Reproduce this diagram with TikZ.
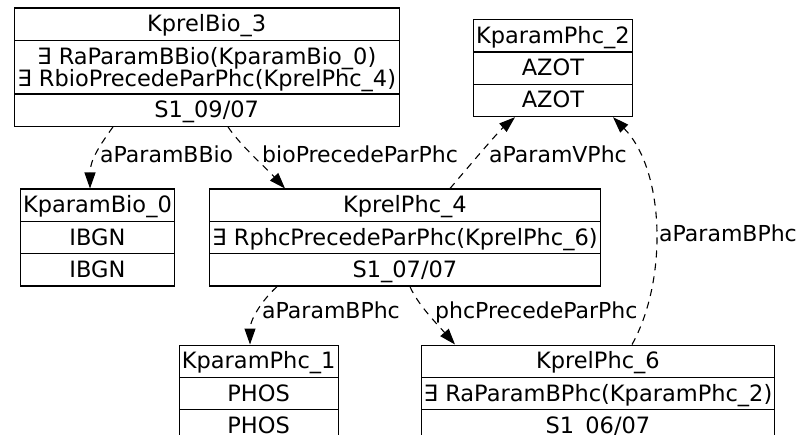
\documentclass[tikz,border=0pt]{standalone}
\usepackage{fontspec}
\setmainfont{DejaVu Sans}
\usepackage{tikz}
\usetikzlibrary{shapes.multipart,arrows.meta,calc,positioning}

\newcommand{\rs}{\rule[-8pt]{0pt}{31pt}}
\newcommand{\recfont}{\fontsize{22.5}{22.7}\selectfont\lineskiplimit=-100pt\hyphenpenalty=10000\relax}

\tikzset{
  rec/.style={draw, line width=1.3pt, rectangle split, rectangle split parts=3,
    inner xsep=0pt, inner ysep=0pt, align=center, anchor=north west,
    font=\recfont},
  lnk/.style={line width=1.1pt, dash pattern=on 7pt off 6pt,
    -{Triangle[length=16pt,width=11pt]}},
  lbl/.style={anchor=base west, inner sep=0pt, font=\fontsize{22}{26}\selectfont}
}

\begin{document}
\begin{tikzpicture}[x=1pt,y=-1pt]

  \useasboundingbox (0,0) rectangle (799,435);

  % records
  \node[rec, text width=385pt] (bio3) at (13.5,7.5)
    {\rs KprelBio\_3
     \nodepart{two}\rule{0pt}{23pt}∃ RaParamBBio(KparamBio\_0)\\
       \rule[-6.5pt]{0pt}{6.5pt}∃ RbioPrecedeParPhc(KprelPhc\_4)
     \nodepart{three}\rs S1\_09/07};
  \node[rec, text width=159.5pt] (par2) at (472.5,19)
    {\rs KparamPhc\_2 \nodepart{two}\rs AZOT \nodepart{three}\rs AZOT};
  \node[rec, text width=154.5pt] (bio0) at (19.5,188.5)
    {\rs KparamBio\_0 \nodepart{two}\rs IBGN \nodepart{three}\rs IBGN};
  \node[rec, text width=391.5pt] (phc4) at (208.5,188.5)
    {\rs KprelPhc\_4
     \nodepart{two}\rs ∃ RphcPrecedeParPhc(KprelPhc\_6)
     \nodepart{three}\rs S1\_07/07};
  \node[rec, text width=159pt] (par1) at (178.5,344.5)
    {\rs KparamPhc\_1 \nodepart{two}\rs PHOS \nodepart{three}\rs PHOS};
  \node[rec, text width=353.5pt] (phc6) at (420.5,344.5)
    {\rs KprelPhc\_6
     \nodepart{two}\rs ∃ RaParamBPhc(KparamPhc\_2)
     \nodepart{three}\rs S1\_06/07};

  % links
  \draw[lnk] ($(bio3.south west)+(99.5,0)$) .. controls (100,145) and (90,160) .. ($(bio0.north west)+(70.5,0)$);
  \draw[lnk] ($(bio3.south west)+(214.5,0)$) .. controls (240,145) and (266,168) .. ($(phc4.north west)+(76.5,0)$);
  \draw[lnk] ($(phc4.north west)+(241.5,0)$) .. controls (470,165) and (498,132) .. ($(par2.south west)+(42.5,0)$);
  \draw[lnk] ($(phc6.north west)+(211.5,0)$) .. controls (668,280) and (665,170) .. ($(par2.south west)+(140.5,0)$);
  \draw[lnk] ($(phc4.south west)+(68.5,0)$) .. controls (262,300) and (250,320) .. ($(par1.north west)+(71.5,0)$);
  \draw[lnk] ($(phc4.south west)+(201.5,0)$) .. controls (418,305) and (438,325) .. ($(phc6.north west)+(34.5,0)$);

  % link labels
  \node[lbl] (l1) at (100,163) {aParamBBio};
  \node[lbl] (l2) at (262,163) {bioPrecedeParPhc};
  \node[lbl] (l3) at (489,163) {aParamVPhc};
  \node[lbl] (l4) at (659,241.5) {aParamBPhc};
  \node[lbl] (l5) at (262,318) {aParamBPhc};
  \node[lbl] (l6) at (435,318) {phcPrecedeParPhc};

\end{tikzpicture}
\end{document}
